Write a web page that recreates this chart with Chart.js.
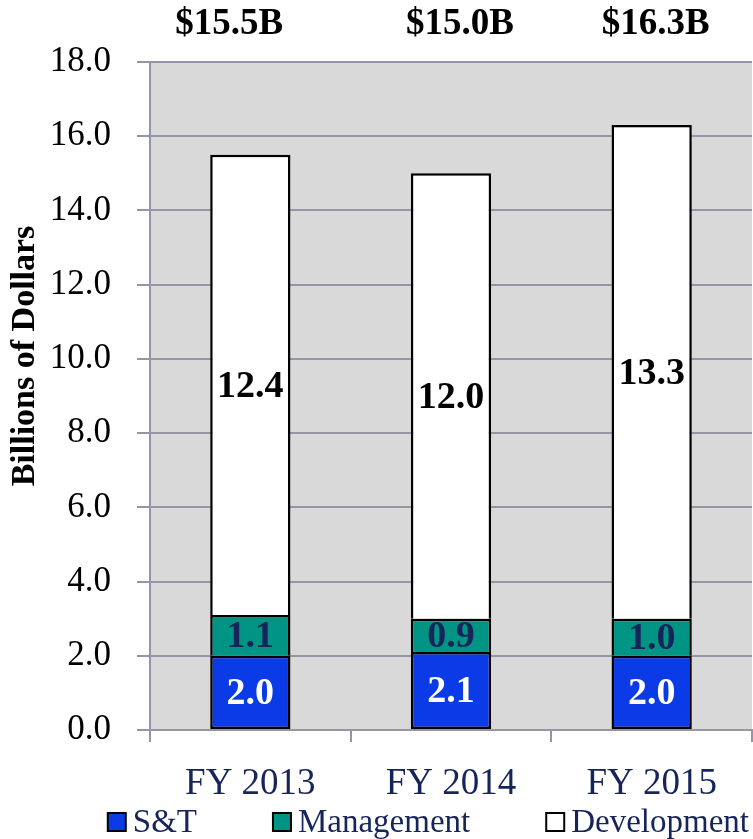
<!DOCTYPE html>
<html>
<head>
<meta charset="utf-8">
<script src="https://cdn.jsdelivr.net/npm/chart.js@4"></script>
<style>
  html, body { margin: 0; padding: 0; background: #fff; }
  #wrap { width: 753px; height: 839px; }
</style>
</head>
<body>
<div id="wrap"><canvas id="chart" width="753" height="839"></canvas></div>
<script>
const categories = ['FY 2013', 'FY 2014', 'FY 2015'];
const stValues = [2.0, 2.1, 2.0];
const mgmtValues = [1.1, 0.9, 1.0];
const devValues = [12.4, 12.0, 13.3];
const totalLabels = ['$15.5B', '$15.0B', '$16.3B'];
const yTicks = [0, 2, 4, 6, 8, 10, 12, 14, 16, 18];

const FONT = "'Liberation Serif', 'DejaVu Serif', serif";
const NAVY = '#16245a';
const GRID = '#9495a6';

const plotBackground = {
  id: 'plotBackground',
  beforeDraw(chart) {
    const { ctx, chartArea: a } = chart;
    ctx.save();
    ctx.fillStyle = '#d9d9d9';
    ctx.fillRect(a.left, a.top, a.right - a.left, a.bottom - a.top);
    ctx.restore();
  },
};

const barLabels = {
  id: 'barLabels',
  afterDatasetsDraw(chart) {
    const { ctx } = chart;
    ctx.save();
    ctx.font = `bold 38px ${FONT}`;
    ctx.textAlign = 'center';
    ctx.textBaseline = 'middle';
    chart.data.datasets.forEach((ds, di) => {
      const meta = chart.getDatasetMeta(di);
      meta.data.forEach((bar, i) => {
        ctx.fillStyle = ds.labelColor;
        ctx.fillText(ds.data[i].toFixed(1), bar.x, (bar.y + bar.base) / 2 + 2);
      });
    });

    // the total boxes sit a little off the bar centres in the original
    const shift = [-21, 9, 4];
    const xScale = chart.scales.x;
    ctx.fillStyle = '#000';
    ctx.font = `bold 37px ${FONT}`;
    totalLabels.forEach((t, i) => {
      ctx.fillText(t, xScale.getPixelForValue(i) + shift[i], 24);
    });

    // y axis title, placed above the axis centre like the original
    ctx.translate(25, 356);
    ctx.rotate(-Math.PI / 2);
    ctx.font = `bold 34px ${FONT}`;
    ctx.fillText('Billions of Dollars', 0, 0);
    ctx.restore();
  },
};

// legend drawn by hand: right aligned, wide gaps like the original
const bottomLegend = {
  id: 'bottomLegend',
  afterDraw(chart) {
    const { ctx } = chart;
    const box = 18, gap = 7, spacing = 76, y = 822;
    ctx.save();
    ctx.font = `33px ${FONT}`;
    ctx.textBaseline = 'middle';
    const items = chart.data.datasets.map((ds) => ({
      text: ds.label,
      color: ds.backgroundColor,
      w: box + gap + ctx.measureText(ds.label).width,
    }));
    const total = items.reduce((s, it) => s + it.w, 0) + spacing * (items.length - 1);
    let x = 749 - total;
    items.forEach((it) => {
      ctx.fillStyle = it.color;
      ctx.fillRect(x, y - box / 2, box, box);
      ctx.strokeStyle = '#000';
      ctx.lineWidth = 2;
      ctx.strokeRect(x, y - box / 2, box, box);
      ctx.fillStyle = NAVY;
      ctx.fillText(it.text, x + box + gap, y + 1);
      x += it.w + spacing;
    });
    ctx.restore();
  },
};

new Chart(document.getElementById('chart'), {
  type: 'bar',
  data: {
    labels: categories,
    datasets: [
      { label: 'S&T', data: stValues, backgroundColor: '#0a3be6', labelColor: '#fff', borderSkipped: false },
      { label: 'Management', data: mgmtValues, backgroundColor: '#009484', labelColor: NAVY, borderSkipped: 'bottom' },
      { label: 'Development', data: devValues, backgroundColor: '#ffffff', labelColor: '#000', borderSkipped: 'bottom' },
    ].map((d) => ({
      ...d,
      borderColor: '#000',
      borderWidth: 2.5,
      categoryPercentage: 1,
      barPercentage: 0.4,
    })),
  },
  options: {
    responsive: false,
    animation: false,
    layout: { padding: { top: 62, right: 1, left: 0, bottom: 39 } },
    plugins: {
      tooltip: { enabled: false },
      legend: { display: false },
    },
    scales: {
      x: {
        stacked: true,
        grid: { drawOnChartArea: false, drawTicks: true, tickLength: 12, color: GRID, lineWidth: 2 },
        border: { color: GRID, width: 2 },
        ticks: { color: NAVY, font: { family: FONT, size: 37 }, padding: 20 },
        afterFit(s) { s.height = 70; },
      },
      y: {
        stacked: true,
        min: 0,
        max: 18,
        afterBuildTicks(s) { s.ticks = yTicks.map((v) => ({ value: v })); },
        grid: { color: GRID, lineWidth: 2, tickLength: 13 },
        border: { color: GRID, width: 2 },
        ticks: {
          color: '#000',
          font: { family: FONT, size: 35 },
          padding: 26,
          callback: (v) => Number(v).toFixed(1),
        },
        afterFit(s) { s.width = 150; },
      },
    },
  },
  plugins: [plotBackground, barLabels, bottomLegend],
});
</script>
</body>
</html>
